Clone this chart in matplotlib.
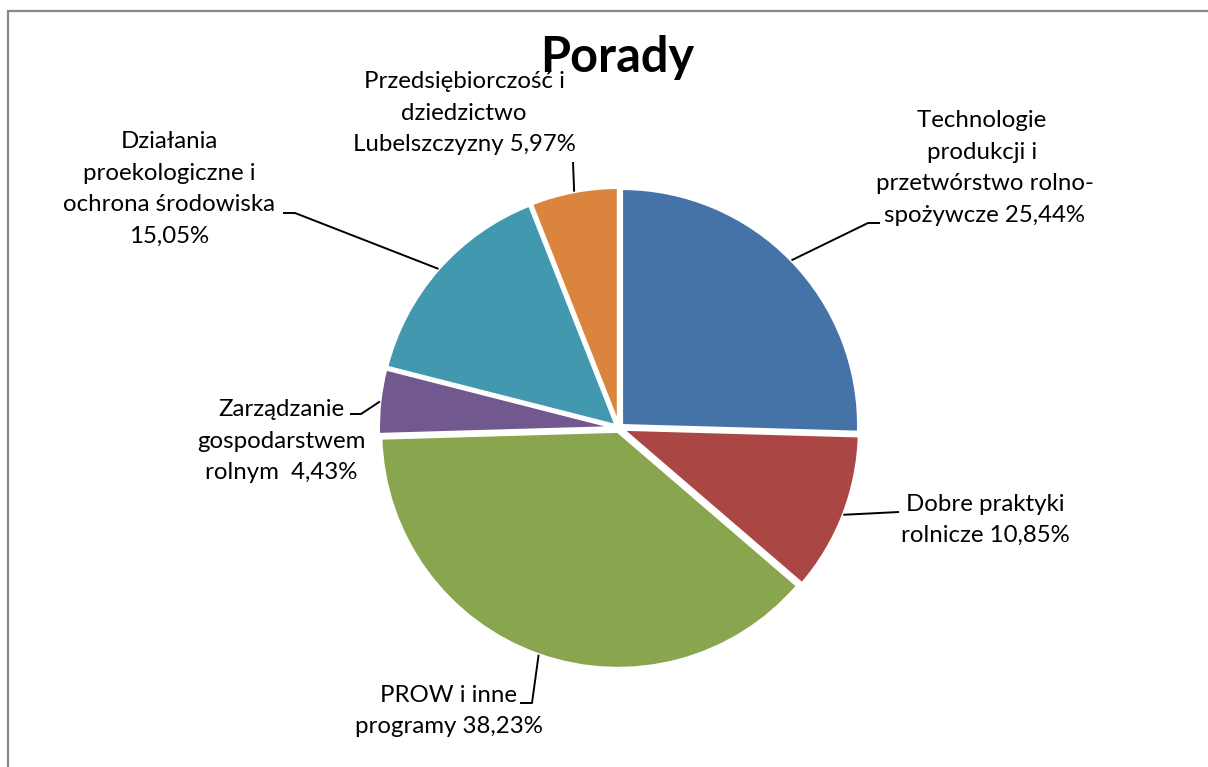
import numpy as np
import matplotlib.pyplot as plt
from matplotlib.patches import Rectangle

# data
labels = [
    "Technologie \nprodukcji i \nprzetwórstwo rolno-\nspożywcze 25,44%",
    "Dobre praktyki\nrolnicze 10,85%",
    "PROW i inne\nprogramy 38,23%",
    "Zarządzanie\ngospodarstwem\nrolnym  4,43%",
    "Działania\nproekologiczne i\nochrona środowiska\n15,05%",
    "Przedsiębiorczość i\ndziedzictwo\nLubelszczyzny 5,97%",
]
values = [25.44, 10.85, 38.23, 4.43, 15.05, 5.97]
colors = ["#4572A7", "#AA4643", "#89A54E", "#71588F", "#4198AF", "#DB843D"]
title = "Porady"

# layout (pixels) -> data units, pie radius 1
W, H = 1208, 767
cx, cy, R = 619, 428, 237


def d(px, py):
    return ((px - cx) / R, (cy - py) / R)


# label centres and leader elbows/ends in pixels
label_pos = [(985, 168), (985, 520), (449, 711), (281, 441), (169, 189), (464, 113)]
leader_pts = [
    [(868, 223), (880, 223)],
    [(899, 512)],
    [(532, 703), (520, 703)],
    [(361, 414), (350, 414)],
    [(295, 213), (283, 213)],
    [(573, 162)],
]

fig = plt.figure(figsize=(W / 100, H / 100), dpi=100)
ax = fig.add_axes([0, 0, 1, 1])

wedges, _ = ax.pie(values, colors=colors, startangle=90, counterclock=False,
                   explode=[0.015] * len(values), radius=1.0,
                   wedgeprops=dict(edgecolor="white", linewidth=2.2))

ax.set_xlim(-cx / R, (W - cx) / R)
ax.set_ylim(-(H - cy) / R, cy / R)
ax.axis("off")

for w, lab, pos, pts in zip(wedges, labels, label_pos, leader_pts):
    mid = np.deg2rad((w.theta1 + w.theta2) / 2)
    x0 = w.center[0] + w.r * np.cos(mid)
    y0 = w.center[1] + w.r * np.sin(mid)
    xs = [x0] + [d(*p)[0] for p in pts]
    ys = [y0] + [d(*p)[1] for p in pts]
    ax.plot(xs, ys, color="black", lw=1.4, solid_capstyle="butt", zorder=3)
    tx, ty = d(*pos)
    ax.text(tx, ty, lab, ha="center", va="center", multialignment="center",
            fontsize=17.3, family="Lato", linespacing=1.62, color="black")

tx, ty = d(617, 57)
ax.text(tx, ty, title, ha="center", va="center", fontsize=35,
        family="Lato", fontweight="bold", color="black")

# outer chart frame (partially visible)
fig.patches.append(Rectangle((8 / W, -0.1), 1.2, (H - 11) / H + 0.1,
                             transform=fig.transFigure, fill=False,
                             edgecolor="#888888", linewidth=1.6))

fig.savefig("out.png", dpi=100)
